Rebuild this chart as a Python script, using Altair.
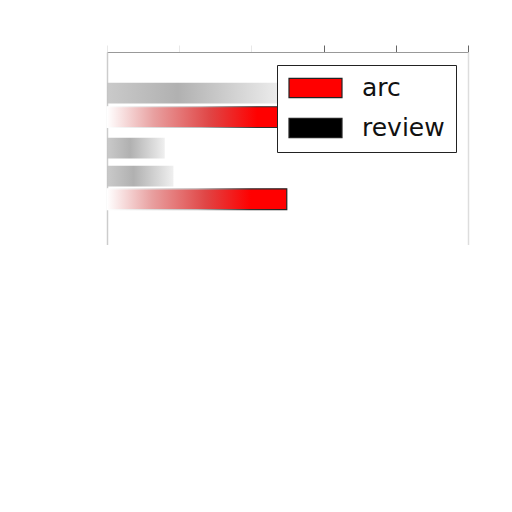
import altair as alt
import pandas as pd

series = ["review", "arc", "review", "review", "arc"]
positions = [1.7, 2.7, 3.98, 5.15, 6.1]
values = [2.45, 2.6, 0.8, 0.92, 2.49]
legend_labels = ["arc", "review"]
legend_colors = ["red", "black"]
x_ticks = [0, 1, 2, 3, 4, 5]

df = pd.DataFrame({"series": series, "pos": positions, "value": values})

W, H = 361, 193

base = alt.Chart(df).transform_calculate(
    y0="datum.pos - 0.43", y1="datum.pos + 0.43", x0="0"
)

xenc = alt.X(
    "x0:Q",
    scale=alt.Scale(domain=[0, 5], nice=False, zero=True),
    axis=alt.Axis(orient="top", values=x_ticks, labels=False, title=None,
                  grid=False, domainColor="#999999",
                  tickColor={"condition": {"test": "datum.value >= 3", "value": "#666666"},
                             "value": "#e8e8e8"},
                  tickSize=7, domainWidth=1.2),
)
yscale = alt.Scale(domain=[0, 8], reverse=True, nice=False, zero=False)

gray_grad = alt.Gradient(
    gradient="linear",
    stops=[alt.GradientStop(color="#c4c4c4", offset=0),
           alt.GradientStop(color="#a8a8a8", offset=0.4),
           alt.GradientStop(color="#dcdcdc", offset=0.85),
           alt.GradientStop(color="#eeeeee", offset=1)],
    x1=0, x2=1, y1=0, y2=0,
)
red_grad = alt.Gradient(
    gradient="linear",
    stops=[alt.GradientStop(color="#ffffff", offset=0),
           alt.GradientStop(color="#e8a0a0", offset=0.25),
           alt.GradientStop(color="#e04545", offset=0.55),
           alt.GradientStop(color="#ff0000", offset=0.8),
           alt.GradientStop(color="#ff0000", offset=1)],
    x1=0, x2=1, y1=0, y2=0,
)
stroke_grad = alt.Gradient(
    gradient="linear",
    stops=[alt.GradientStop(color="#ffffff", offset=0),
           alt.GradientStop(color="#bbbbbb", offset=0.5),
           alt.GradientStop(color="#333333", offset=0.8),
           alt.GradientStop(color="#222222", offset=1)],
    x1=0, x2=1, y1=0, y2=0,
)

review = base.transform_filter(alt.datum.series == "review").mark_bar(
    color=gray_grad, opacity=0.9
).encode(
    x=xenc,
    x2="value:Q",
    y=alt.Y("y0:Q", scale=yscale,
            axis=alt.Axis(orient="left", labels=False, ticks=False, title=None,
                          grid=False, domainColor="#cccccc", domainWidth=1.5)),
    y2="y1:Q",
)

arc = base.transform_filter(alt.datum.series == "arc").mark_bar(
    color=red_grad, stroke=stroke_grad, strokeWidth=1.2
).encode(
    x=alt.X("x0:Q"),
    x2="value:Q",
    y=alt.Y("y0:Q", scale=yscale, axis=None),
    y2="y1:Q",
)

legend_layer = base.mark_bar(opacity=0).encode(
    x=alt.X("x0:Q"),
    x2="value:Q",
    y=alt.Y("y0:Q", scale=yscale,
            axis=alt.Axis(orient="right", labels=False, ticks=False, title=None,
                          grid=False, domainColor="#dddddd", domainWidth=1.5)),
    y2="y1:Q",
    color=alt.Color(
        "series:N",
        scale=alt.Scale(domain=legend_labels, range=legend_colors),
        legend=alt.Legend(
            title=None, orient="none", legendX=170, legendY=13,
            symbolType="M-1,-0.36H1V0.36H-1Z", symbolSize=2809,
            symbolOpacity=1, symbolStrokeColor="#222222", symbolStrokeWidth=1.2,
            labelFont="DejaVu Sans", labelFontSize=25, labelColor="#111111",
            labelOffset=19, clipHeight=24, rowPadding=15,
            padding=11, strokeColor="#222222",
            fillColor="white", cornerRadius=0, labelLimit=200,
        ),
    ),
)

chart = alt.layer(review, arc, legend_layer).resolve_axis(y="independent").properties(
    width=W, height=H,
    autosize=alt.AutoSizeParams(type="none"),
    padding={"left": 99, "top": 44, "right": 30, "bottom": 0},
).configure_view(stroke=None).configure_legend(strokeWidth=2).configure(background="white")

chart.save("out.html", embed_options={"renderer": "svg", "actions": False})
